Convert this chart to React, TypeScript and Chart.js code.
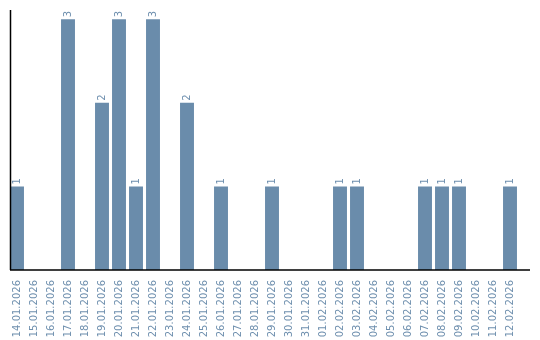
import React, { useEffect, useRef } from "react";
import { Chart, registerables } from "chart.js";

Chart.register(...registerables);

const categories = [
  "14.01.2026", "15.01.2026", "16.01.2026", "17.01.2026", "18.01.2026",
  "19.01.2026", "20.01.2026", "21.01.2026", "22.01.2026", "23.01.2026",
  "24.01.2026", "25.01.2026", "26.01.2026", "27.01.2026", "28.01.2026",
  "29.01.2026", "30.01.2026", "31.01.2026", "01.02.2026", "02.02.2026",
  "03.02.2026", "04.02.2026", "05.02.2026", "06.02.2026", "07.02.2026",
  "08.02.2026", "09.02.2026", "10.02.2026", "11.02.2026", "12.02.2026",
];

const counts = [
  1, 0, 0, 3, 0,
  2, 3, 1, 3, 0,
  2, 0, 1, 0, 0,
  1, 0, 0, 0, 1,
  1, 0, 0, 0, 1,
  1, 1, 0, 0, 1,
];

const BAR = "#6a8cab";
const TEXT = "#6e8fae";

const axisLines = {
  id: "axisLines",
  afterDatasetsDraw(chart: any) {
    const { ctx, chartArea } = chart;
    ctx.save();
    ctx.strokeStyle = "#000";
    ctx.lineWidth = 1.5;
    ctx.beginPath();
    ctx.moveTo(10.5, chartArea.top);
    ctx.lineTo(10.5, chartArea.bottom);
    ctx.moveTo(10, chartArea.bottom);
    ctx.lineTo(530, chartArea.bottom);
    ctx.stroke();
    ctx.restore();
  },
};

const valueLabels = {
  id: "valueLabels",
  afterDatasetsDraw(chart: any) {
    const { ctx } = chart;
    const meta = chart.getDatasetMeta(0);
    ctx.save();
    ctx.fillStyle = TEXT;
    ctx.font = "10px 'DejaVu Sans'";
    ctx.textAlign = "left";
    ctx.textBaseline = "middle";
    meta.data.forEach((el: any, i: number) => {
      const v = counts[i];
      if (!v) return;
      ctx.save();
      ctx.translate(el.x, el.y - 2);
      ctx.rotate(-Math.PI / 2);
      ctx.fillText(String(v), 0, 0);
      ctx.restore();
    });
    ctx.restore();
  },
};

export default function App() {
  const ref = useRef<HTMLCanvasElement | null>(null);
  useEffect(() => {
    document.body.style.margin = "0";
    const chart = new Chart(ref.current!, {
      type: "bar",
      data: {
        labels: categories,
        datasets: [
          {
            data: counts,
            backgroundColor: BAR,
            borderWidth: 0,
            barPercentage: 0.82,
            categoryPercentage: 1,
          },
        ],
      },
      options: {
        responsive: false,
        animation: false,
        layout: { padding: { left: 8.5, right: 21.5, top: 10, bottom: 0 } },
        plugins: { legend: { display: false }, tooltip: { enabled: false } },
        scales: {
          x: {
            grid: { display: false },
            border: { display: false },
            ticks: {
              autoSkip: false,
              minRotation: 90,
              maxRotation: 90,
              padding: 2,
              color: TEXT,
              font: { family: "'DejaVu Sans'", size: 10 },
            },
            afterFit(scale: any) {
              scale.height = 70;
            },
          },
          y: {
            display: false,
            min: 0,
            max: 3.11,
          },
        },
      },
      plugins: [axisLines, valueLabels],
    });
    return () => chart.destroy();
  }, []);
  return <canvas ref={ref} width={540} height={340} style={{ display: "block" }} />;
}
